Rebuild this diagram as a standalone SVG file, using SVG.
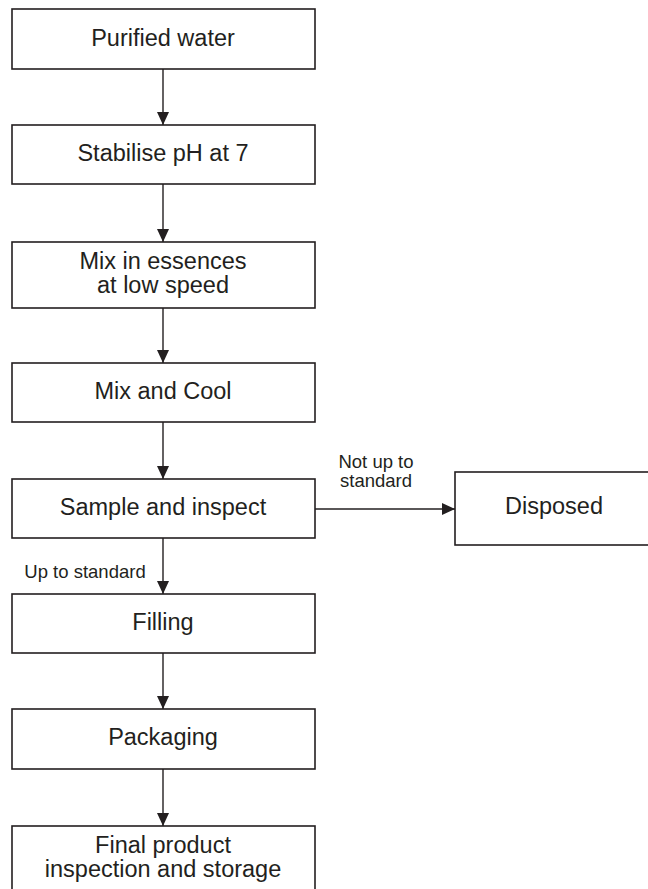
<svg xmlns="http://www.w3.org/2000/svg" width="648" height="889" viewBox="0 0 648 889">
<style>
.box{fill:#fff;stroke:#231f20;stroke-width:1.6}
.t{font-family:"Liberation Sans",Arial,sans-serif;font-size:23.5px;fill:#231f20;text-anchor:middle}
.l{font-family:"Liberation Sans",Arial,sans-serif;font-size:18.5px;fill:#231f20;text-anchor:middle}
.c{stroke:#231f20;stroke-width:1.4;fill:none;marker-end:url(#ah)}
</style>
<defs>
<marker id="ah" viewBox="0 0 13 12" refX="13" refY="6" markerWidth="13" markerHeight="12" markerUnits="userSpaceOnUse" orient="auto">
<path d="M0,0 L13,6 L0,12 Z" fill="#231f20"/>
</marker>
</defs>
<rect width="648" height="889" fill="#fff"/>
<g id="connectors">
<line class="c" x1="163" y1="69" x2="163" y2="125"/>
<line class="c" x1="163" y1="184" x2="163" y2="242"/>
<line class="c" x1="163" y1="308" x2="163" y2="363"/>
<line class="c" x1="163" y1="422" x2="163" y2="479"/>
<line class="c" x1="315" y1="509" x2="455" y2="509"/>
<line class="c" x1="163" y1="538" x2="163" y2="594"/>
<line class="c" x1="163" y1="653" x2="163" y2="709"/>
<line class="c" x1="163" y1="769" x2="163" y2="826"/>
<text class="l" x="376" y="468">Not up to</text>
<text class="l" x="376" y="487">standard</text>
<text class="l" x="85" y="578">Up to standard</text>
</g>
<g id="n1"><rect class="box" x="12" y="9" width="303" height="60"/><text class="t" x="163" y="46">Purified water</text></g>
<g id="n2"><rect class="box" x="12" y="125" width="303" height="59"/><text class="t" x="163" y="161">Stabilise pH at 7</text></g>
<g id="n3"><rect class="box" x="12" y="242" width="303" height="66"/><text class="t" x="163" y="269">Mix in essences</text><text class="t" x="163" y="293">at low speed</text></g>
<g id="n4"><rect class="box" x="12" y="363" width="303" height="59"/><text class="t" x="163" y="399">Mix and Cool</text></g>
<g id="n5"><rect class="box" x="12" y="479" width="303" height="59"/><text class="t" x="163" y="515">Sample and inspect</text></g>
<g id="n6"><rect class="box" x="455" y="472" width="210" height="73"/><text class="t" x="554" y="514">Disposed</text></g>
<g id="n7"><rect class="box" x="12" y="594" width="303" height="59"/><text class="t" x="163" y="630">Filling</text></g>
<g id="n8"><rect class="box" x="12" y="709" width="303" height="60"/><text class="t" x="163" y="745">Packaging</text></g>
<g id="n9"><rect class="box" x="12" y="826" width="303" height="80"/><text class="t" x="163" y="853">Final product</text><text class="t" x="163" y="877">inspection and storage</text></g>
</svg>
